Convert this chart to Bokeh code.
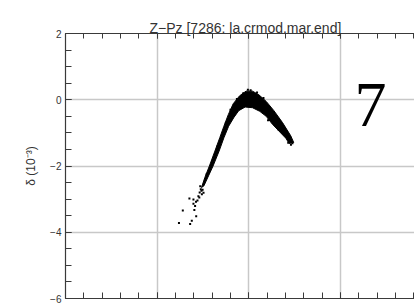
from bokeh.plotting import figure
from bokeh.models import (Range1d, LinearAxis, SingleIntervalTicker, FixedTicker,
                          Label, ColumnDataSource)
from bokeh.embed import file_html
from bokeh.resources import INLINE

# ---- data ----
title_text = "Z\u2212Pz [7286: la.crmod.mar.end]"
ylabel_text = "\u03b4 (10\u207b\u00b3)"
panel_label = "7"

x_ticks_major = [-10, -5, 0, 5]
y_ticks_major = [2, 0, -2, -4, -6]
x_grid = [-5, 0, 5]
y_grid = [0, -2, -4]

# dense band outline (upper edge left->right, lower edge right->left)
band_upper_x = [-2.58, -2.4, -2.15, -1.85, -1.58, -1.36, -1.12, -0.85, -0.5, -0.15,
                0.2, 0.55, 0.95, 1.37, 1.84, 2.29, 2.45]
band_upper_y = [-2.65, -2.35, -2.0, -1.55, -1.14, -0.8, -0.45, -0.12, 0.12, 0.26,
                0.26, 0.15, -0.05, -0.33, -0.69, -1.09, -1.29]
band_lower_x = [2.2, 2.02, 1.74, 1.29, 0.95, 0.6, 0.2, -0.2, -0.55, -0.82,
                -1.1, -1.36, -1.62, -1.95, -2.2, -2.45]
band_lower_y = [-1.32, -1.16, -1.0, -0.74, -0.5, -0.35, -0.24, -0.22, -0.33, -0.54,
                -0.8, -1.15, -1.55, -2.0, -2.3, -2.6]

# scattered points at the band edges and in the low tail
tail_x = [-3.02, -3.24, -3.02, -2.93, -3.60, -2.97, -2.87, -3.11, -3.20, -3.81,
          -2.65, -2.47, -2.75, -2.56, -2.80, -2.70, -2.88, -2.62, -2.58, -2.68, -2.52]
tail_y = [-3.01, -2.98, -3.14, -3.21, -3.34, -3.33, -3.52, -3.65, -3.75, -3.72,
          -2.61, -2.81, -2.91, -2.85, -3.04, -2.95, -3.08, -2.70, -2.75, -2.80, -2.72]
edge_x = [2.38, 2.30, 2.15, 2.05, 1.95, 1.85, 1.62, 1.50, 1.40, 1.15, 0.45, -0.05,
          0.10, -0.30, -0.65, -1.00, -1.25, -1.70, -2.00, -2.30, 0.80, 1.05]
edge_y = [-1.31, -1.36, -1.30, -1.12, -1.05, -0.88, -0.90, -0.78, -0.52, -0.30, 0.22,
          0.30, 0.29, 0.20, 0.02, -0.30, -0.70, -1.40, -1.85, -2.25, 0.05, -0.62]

axis_color = "#3a3a3a"
font = "Liberation Sans"

p = figure(width=414, height=304, output_backend="svg", toolbar_location=None,
           x_range=Range1d(-10, 9.04), y_range=Range1d(-6, 2),
           min_border_left=65, min_border_top=33, min_border_right=0,
           min_border_bottom=6, background_fill_color="white",
           border_fill_color="white", x_axis_location=None, y_axis_location=None)
p.outline_line_color = None

# title
p.title.text = title_text
p.title.align = "left"
p.title.offset = 84
p.title.standoff = -4
p.title.text_font = font
p.title.text_font_size = "14px"
p.title.text_font_style = "normal"
p.title.text_color = "#333333"

# grid
p.xgrid.ticker = FixedTicker(ticks=x_grid)
p.ygrid.ticker = FixedTicker(ticks=y_grid)
for g in (p.xgrid, p.ygrid):
    g.grid_line_color = "#c8c8c8"
    g.grid_line_width = 1.5

def style_axis(ax, label_size):
    ax.axis_line_color = axis_color
    ax.axis_line_width = 1.2
    ax.major_tick_line_color = axis_color
    ax.minor_tick_line_color = axis_color
    ax.major_tick_in = 6
    ax.major_tick_out = 0
    ax.minor_tick_in = 6
    ax.minor_tick_out = 0
    ax.major_label_text_font = font
    ax.major_label_text_font_size = label_size
    ax.major_label_text_color = "#333333"

# left axis
yax = LinearAxis(ticker=SingleIntervalTicker(interval=2, num_minor_ticks=4))
style_axis(yax, "10px")
yax.major_label_standoff = 4
yax.major_label_overrides = {float(v): (str(v) if v >= 0 else "\u2212" + str(-v))
                             for v in y_ticks_major}
yax.axis_label = ylabel_text
yax.axis_label_text_font = font
yax.axis_label_text_font_style = "normal"
yax.axis_label_text_font_size = "12px"
yax.axis_label_text_color = "#333333"
yax.axis_label_standoff = 9
p.add_layout(yax, "left")

# bottom axis (labels fall outside the window in the reference)
xax = LinearAxis(ticker=SingleIntervalTicker(interval=5, num_minor_ticks=5))
style_axis(xax, "1px")
xax.major_label_text_color = None
xax.major_label_standoff = 0
p.add_layout(xax, "below")

# top axis
tax = LinearAxis(ticker=SingleIntervalTicker(interval=5, num_minor_ticks=5))
style_axis(tax, "1px")
tax.major_tick_in = 5
tax.minor_tick_in = 5
tax.major_label_text_color = None
tax.major_label_standoff = 0
p.add_layout(tax, "above")

# data: dense band
band_x = band_upper_x + band_lower_x
band_y = band_upper_y + band_lower_y
p.patch(band_x, band_y, fill_color="black", line_color="black", line_width=1)

pts = ColumnDataSource(dict(x=tail_x + edge_x, y=tail_y + edge_y))
p.scatter("x", "y", source=pts, marker="square", size=2,
          fill_color="black", line_color=None)

# panel label
p.add_layout(Label(x=5.77, y=0.49, text=panel_label, text_align="left",
                   text_baseline="top", text_font="Liberation Serif",
                   text_font_size="64px", text_color="black"))

open("out.html", "w").write(file_html(p, INLINE))
